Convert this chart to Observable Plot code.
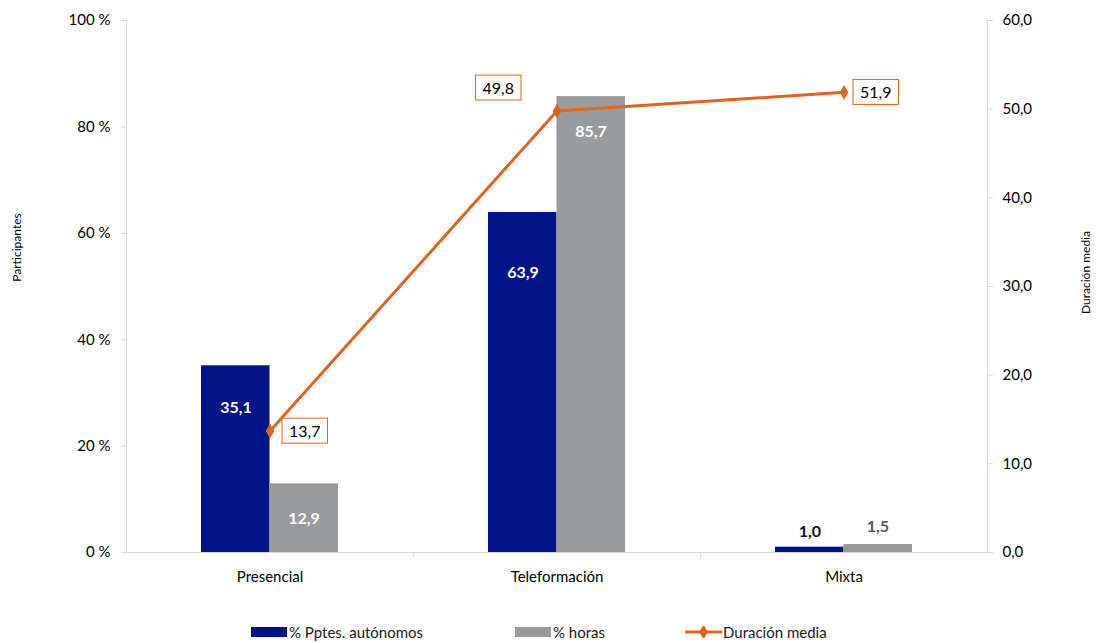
<!DOCTYPE html>
<html><head><meta charset="utf-8">
<script src="https://cdn.jsdelivr.net/npm/d3@7"></script>
<script src="https://cdn.jsdelivr.net/npm/@observablehq/plot@0.6"></script>
<style>
body{margin:0;background:#fff;font-family:Lato,"Open Sans",sans-serif;}
#legend{position:relative;width:1097px;height:28px;font-size:15px;color:#1a1a1a;}
.item{position:absolute;top:0;height:28px;display:flex;align-items:center;white-space:nowrap;}
.sw{display:inline-block;width:36px;height:10px;margin-right:2px;}
</style></head><body>
<div id="chart"></div>
<div id="legend"></div>
<script>
const categories = ["Presencial", "Teleformación", "Mixta"];
const pctAutonomos = [35.1, 63.9, 1.0];
const pctHoras = [12.9, 85.7, 1.5];
const duracionMedia = [13.7, 49.8, 51.9];
const leftTicks = [0, 20, 40, 60, 80, 100];
const rightTicks = [0, 10, 20, 30, 40, 50, 60];
const seriesNames = ["% Pptes. autónomos", "% horas", "Duración media"];
const axisTitles = ["Participantes", "Duración media"];

const BLUE = "#00148A", GRAY = "#999A9C", ORANGE = "#E0641D", AXIS = "#d9d9d9";
const fmt = v => v.toFixed(1).replace(".", ",");
const RMAX = 60;
const toLeft = v => v * 100 / RMAX;

const rows = categories.map((c, i) => ({cat: c, a: pctAutonomos[i], h: pctHoras[i], d: duracionMedia[i]}));

const plot = Plot.plot({
  width: 1097, height: 618,
  marginLeft: 126, marginRight: 110, marginTop: 20, marginBottom: 66,
  style: {fontFamily: "Lato, 'Open Sans', sans-serif", fontSize: "15px", background: "#fff", color: "#000"},
  x: {type: "band", domain: categories, padding: 0},
  y: {domain: [0, 100]},
  marks: [
    Plot.frame({anchor: "left", stroke: AXIS}),
    Plot.frame({anchor: "right", stroke: AXIS}),
    Plot.ruleY([0], {stroke: AXIS}),
    Plot.ruleX(categories.slice(1), {x: d => d, y1: 0, y2: -1, dx: -143.5, stroke: AXIS}),
    Plot.axisY(leftTicks, {anchor: "left", tickFormat: d => d + " %", tickSize: 5, tickPadding: 11, stroke: AXIS, fill: "#000", label: null}),
    Plot.axisY(rightTicks.map(toLeft), {anchor: "right", tickFormat: d => fmt(d * RMAX / 100), tickSize: 5, tickPadding: 10, stroke: AXIS, fill: "#000", label: null}),
    Plot.axisX({tickSize: 0, tickPadding: 19, fill: "#000", label: null}),
    Plot.text([axisTitles[0]], {frameAnchor: "left", textAnchor: "middle", dx: -109, dy: -39, rotate: -90, text: d => d, fontSize: 12, fill: "#000"}),
    Plot.text([axisTitles[1]], {frameAnchor: "right", textAnchor: "middle", dx: 99, dy: -14, rotate: -90, text: d => d, fontSize: 12, fill: "#000"}),
    Plot.barY(rows, {x: "cat", y: "a", fill: BLUE, insetLeft: 75, insetRight: 143.5}),
    Plot.barY(rows, {x: "cat", y: "h", fill: GRAY, insetLeft: 143.5, insetRight: 75}),
    // labels inside bars
    Plot.text(rows.filter(d => d.cat === "Presencial"), {x: "cat", y: "a", text: d => fmt(d.a), dx: -34, dy: 42, fill: "#fff", fontWeight: "bold", fontSize: 16}),
    Plot.text(rows.filter(d => d.cat === "Teleformación"), {x: "cat", y: "a", text: d => fmt(d.a), dx: -34, dy: 60, fill: "#fff", fontWeight: "bold", fontSize: 16}),
    Plot.text(rows.filter(d => d.h > 5), {x: "cat", y: "h", text: d => fmt(d.h), dx: 34, dy: 35, fill: "#fff", fontWeight: "bold", fontSize: 16}),
    // small bars labels above
    Plot.text(rows.filter(d => d.a <= 5), {x: "cat", y: "a", text: d => fmt(d.a), dx: -34, dy: -15, fill: "#111", fontWeight: "bold", fontSize: 16}),
    Plot.text(rows.filter(d => d.h <= 5), {x: "cat", y: "h", text: d => fmt(d.h), dx: 34, dy: -18, fill: "#595959", fontWeight: "bold", fontSize: 16}),
    // duration line
    Plot.line(rows, {x: "cat", y: d => toLeft(d.d), stroke: ORANGE, strokeWidth: 3}),
    Plot.dot(rows, {x: "cat", y: d => toLeft(d.d), symbol: "diamond", r: 4.5, fill: ORANGE, stroke: "none"}),
    Plot.text(rows.filter(d => d.cat === "Presencial"), {x: "cat", y: d => toLeft(d.d), text: d => fmt(d.d), textAnchor: "start", dx: 19, dy: 1, fontSize: 16, fill: "#000", ariaDescription: "duracion"}),
    Plot.text(rows.filter(d => d.cat === "Teleformación"), {x: "cat", y: d => toLeft(d.d), text: d => fmt(d.d), textAnchor: "end", dx: -43, dy: -22, fontSize: 16, fill: "#000", ariaDescription: "duracion"}),
    Plot.text(rows.filter(d => d.cat === "Mixta"), {x: "cat", y: d => toLeft(d.d), text: d => fmt(d.d), textAnchor: "start", dx: 16, dy: 1, fontSize: 16, fill: "#000", ariaDescription: "duracion"})
  ]
});
document.getElementById("chart").appendChild(plot);

// boxes around duration labels
d3.select(plot).selectAll('g[aria-description="duracion"] text').each(function() {
  const b = this.getBBox();
  const r = document.createElementNS("http://www.w3.org/2000/svg", "rect");
  r.setAttribute("x", b.x - 7);
  r.setAttribute("y", b.y - 3);
  r.setAttribute("width", b.width + 14);
  r.setAttribute("height", b.height + 6);
  r.setAttribute("fill", "#fff");
  r.setAttribute("stroke", ORANGE);
  r.setAttribute("stroke-width", 1);
  const t = this.getAttribute("transform");
  if (t) r.setAttribute("transform", t);
  this.parentNode.insertBefore(r, this);
});

// legend
const legend = d3.select("#legend");
const items = [
  {name: seriesNames[0], left: 251, kind: "bar", color: BLUE},
  {name: seriesNames[1], left: 515, kind: "bar", color: GRAY},
  {name: seriesNames[2], left: 685, kind: "line", color: ORANGE}
];
items.forEach(it => {
  const div = legend.append("div").attr("class", "item").style("left", it.left + "px");
  if (it.kind === "bar") {
    div.append("span").attr("class", "sw").style("background", it.color);
  } else {
    const s = div.append("svg").attr("width", 37).attr("height", 12).style("margin-right", "1px");
    s.append("line").attr("x1", 0).attr("x2", 37).attr("y1", 6).attr("y2", 6).attr("stroke", it.color).attr("stroke-width", 3);
    s.append("path").attr("d", d3.symbol(d3.symbolDiamond, 64)()).attr("transform", "translate(18.5,6)").attr("fill", it.color);
  }
  div.append("span").text(it.name);
});
</script>
</body></html>
